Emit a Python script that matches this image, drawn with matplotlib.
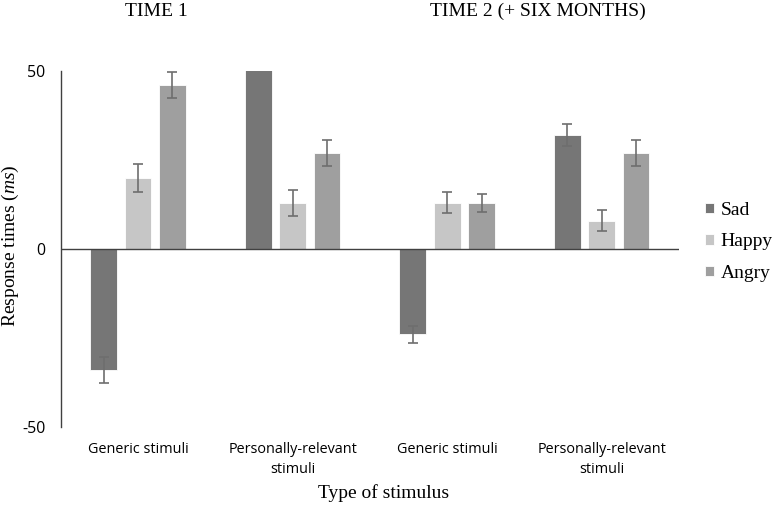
import numpy as np
import matplotlib
matplotlib.use("Agg")
from matplotlib import pyplot as plt

plt.rcParams["mathtext.fontset"] = "custom"
plt.rcParams["mathtext.rm"] = "Liberation Serif"
plt.rcParams["mathtext.it"] = "Liberation Serif:italic"

# categories along the x axis (two time points, two stimulus types each)
categories = ["Generic stimuli", "Personally-relevant\nstimuli",
              "Generic stimuli", "Personally-relevant\nstimuli"]
emotions = ["Sad", "Happy", "Angry"]

# mean response times (ms)
sad = [-34, 55, -24, 32]
happy = [20, 13, 13, 8]
angry = [46, 27, 13, 27]

# error bar half-lengths
sad_err = [3.6, 3.5, 2.3, 3.0]
happy_err = [4.0, 3.6, 3.0, 3.0]
angry_err = [3.6, 3.6, 2.5, 3.6]

colors = ["#767676", "#c6c6c6", "#9f9f9f"]

fig = plt.figure(figsize=(7.73, 5.15), dpi=100)
ax = fig.add_axes([0.0785, 0.171, 0.80, 0.691])

x = np.arange(len(categories))
width = 0.173
step = 0.222

series = [sad, happy, angry]
errs = [sad_err, happy_err, angry_err]
for k in range(3):
    ax.bar(x + (k - 1) * step, series[k], width, color=colors[k],
           edgecolor="white", linewidth=0.6, label=emotions[k],
           yerr=errs[k], capsize=3.5,
           error_kw=dict(ecolor="#6e6e6e", elinewidth=1.2, capthick=1.2))

ax.set_ylim(-50, 50)
ax.set_xlim(-0.5, 3.5)
ax.set_yticks([-50, 0, 50])
ax.set_yticklabels(["-50", "0", "50"], family="Open Sans", fontsize=11.5)
ax.set_xticks(x)
ax.set_xticklabels(categories, family="Open Sans", fontsize=10.4, linespacing=1.45)
ax.tick_params(length=0)
ax.tick_params(axis="y", pad=11)
ax.tick_params(axis="x", pad=11)

ax.axhline(0, color="#404040", linewidth=1.0)
for s in ["top", "right", "bottom"]:
    ax.spines[s].set_visible(False)
ax.spines["left"].set_color("#404040")
ax.spines["left"].set_linewidth(1.0)

serif = "Liberation Serif"
fig.text(10 / 773, 1 - 246 / 515, "Response times ($\\mathit{ms}$)", rotation=90,
         ha="center", va="center", family=serif, fontsize=14)
fig.text(384 / 773, 1 - 493 / 515, "Type of stimulus", ha="center", va="center",
         family=serif, fontsize=14)
fig.text(156 / 773, 1 - 11 / 515, "TIME 1", ha="center", va="center",
         family=serif, fontsize=14)
fig.text(538 / 773, 1 - 11 / 515, "TIME 2 (+ SIX MONTHS)", ha="center", va="center",
         family=serif, fontsize=14)

leg = ax.legend(loc="center left", bbox_to_anchor=(1.042, 0.52), frameon=False,
                prop={"family": serif, "size": 14}, handlelength=0.47,
                handleheight=0.47, handletextpad=0.32, labelspacing=0.75,
                borderpad=0, borderaxespad=0)

fig.savefig("out.png", dpi=100)
